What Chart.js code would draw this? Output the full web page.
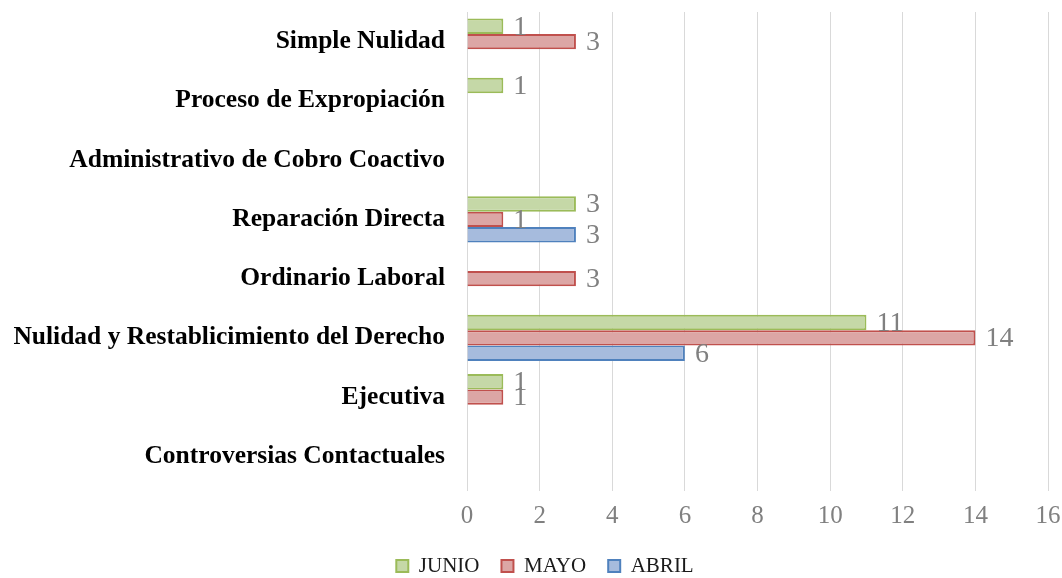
<!DOCTYPE html>
<html>
<head>
<meta charset="utf-8">
<title>Procesos por tipo</title>
<script src="https://cdn.jsdelivr.net/npm/chart.js@4.4.1/dist/chart.umd.min.js"></script>
<style>
  html, body { margin: 0; padding: 0; background: #ffffff; }
  #wrap { width: 1062px; height: 578px; position: relative; }
</style>
</head>
<body>
<div id="wrap"><canvas id="procesosChart"></canvas></div>
<script>
// data (null = no bar)
const categories = [
    "Simple Nulidad",
    "Proceso de Expropiación",
    "Administrativo de Cobro Coactivo",
    "Reparación Directa",
    "Ordinario Laboral",
    "Nulidad y Restablicimiento del Derecho",
    "Ejecutiva",
    "Controversias Contactuales"
];
const junio = [1, 1, null, 3, null, 11, 1, null];
const mayo = [3, null, null, 1, 3, 14, 1, null];
const abril = [null, null, null, 3, null, 6, null, null];
const xTicks = [0, 2, 4, 6, 8, 10, 12, 14, 16];

const serif = "'Liberation Serif', 'Times New Roman', serif";

// value labels to the right of every bar
const valueLabels = {
    id: "valueLabels",
    afterLayout(chart) {
        // legend in the original is centred a bit right of the canvas middle
        if (chart.legend) chart.legend.left += 42;
    },
    afterDatasetsDraw(chart) {
        const ctx = chart.ctx;
        ctx.save();
        ctx.font = "28px " + serif;
        ctx.fillStyle = "#808080";
        ctx.textAlign = "left";
        ctx.textBaseline = "middle";
        chart.data.datasets.forEach((ds, i) => {
            const meta = chart.getDatasetMeta(i);
            meta.data.forEach((bar, j) => {
                const v = ds.data[j];
                if (v === null || v === undefined) return;
                ctx.fillText(String(v), bar.x + 10, bar.y + 1);
            });
        });
        ctx.restore();
    }
};

const ctx = document.getElementById("procesosChart");
new Chart(ctx.getContext("2d"), {
    type: "bar",
    data: {
        labels: categories,
        datasets: [
            { label: "JUNIO", data: junio, backgroundColor: "#c5d8a7", borderColor: "#9bbb59", borderWidth: 2 },
            { label: "MAYO", data: mayo, backgroundColor: "#dca6a5", borderColor: "#c0504d", borderWidth: 2 },
            { label: "ABRIL", data: abril, backgroundColor: "#a6bbdd", borderColor: "#4f81bd", borderWidth: 2 }
        ]
    },
    options: {
        indexAxis: "y",
        responsive: true,
        maintainAspectRatio: false,
        animation: false,
        layout: { padding: { top: 12, right: 14, bottom: -8.5, left: 0 } },
        datasets: { bar: { categoryPercentage: 0.78, barPercentage: 1.0 } },
        scales: {
            x: {
                min: 0,
                max: 16,
                afterBuildTicks: (scale) => { scale.ticks = xTicks.map(v => ({ value: v })); },
                grid: { color: "#d9d9d9", lineWidth: 1, drawTicks: true, tickLength: 5 },
                border: { display: false },
                ticks: { color: "#808080", font: { family: serif, size: 25 }, padding: 10 },
                afterFit: (scale) => {
                    scale.height = 47.5;
                    scale.paddingLeft = 0;
                    scale.paddingRight = 0;
                }
            },
            y: {
                grid: { display: false, drawTicks: false },
                border: { display: false },
                ticks: { color: "#000000", font: { family: serif, size: 25.5, weight: "bold" }, padding: 22 },
                afterFit: (scale) => {
                    scale.width = 467;
                    scale.paddingTop = 0;
                    scale.paddingBottom = 0;
                }
            }
        },
        plugins: {
            legend: {
                position: "bottom",
                labels: {
                    color: "#1a1a1a",
                    font: { family: serif, size: 21 },
                    boxWidth: 12,
                    boxHeight: 12,
                    padding: 22
                }
            },
            tooltip: { enabled: false }
        }
    },
    plugins: [valueLabels]
});
</script>
</body>
</html>
